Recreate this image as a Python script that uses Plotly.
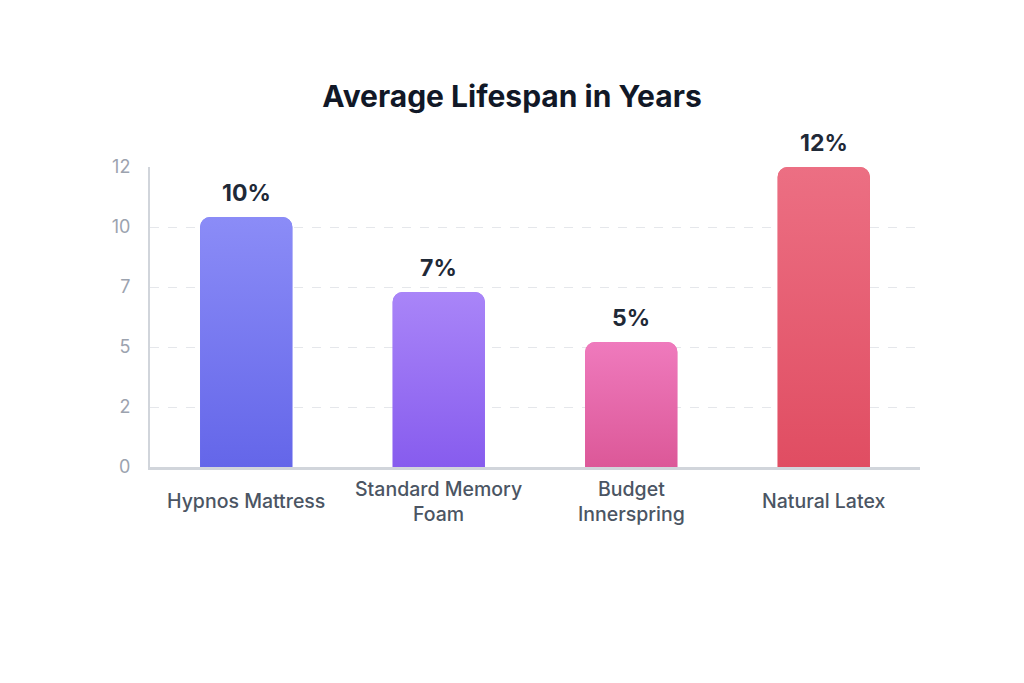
import base64
import plotly.graph_objects as go

categories = ["Hypnos Mattress", "Standard Memory<br>Foam", "Budget<br>Innerspring", "Natural Latex"]
values = [10, 7, 5, 12]
value_labels = ["10%", "7%", "5%", "12%"]
bar_colors = ["#7779f1", "#9a72f4", "#e567ad", "#e55d71"]
grad_top = ["#8b8cf7", "#a985f8", "#ef7abd", "#ec6f83"]
grad_bottom = ["#6466e9", "#875cee", "#dc5898", "#e04d62"]
tick_vals = [0, 2.4, 4.8, 7.2, 9.6, 12]
tick_text = ["0", "2", "5", "7", "10", "12"]

BAR_W = 0.48
PX_PER_UNIT = 25.0   # plot height 300px / 12 units
PX_PER_CAT = 192.5   # plot width 770px / 4 categories

fig = go.Figure()
fig.add_trace(go.Bar(
    x=categories,
    y=values,
    marker=dict(color=bar_colors, cornerradius=10, line=dict(width=0)),
    width=BAR_W,
    hoverinfo="skip",
))


def grad_svg(top, bottom, v):
    w = BAR_W * PX_PER_CAT
    h = v * PX_PER_UNIT
    r = 10
    svg = (
        f'<svg xmlns="http://www.w3.org/2000/svg" width="{w:.1f}" height="{h:.1f}" '
        f'viewBox="0 0 {w:.1f} {h:.1f}" preserveAspectRatio="none">'
        f'<defs><linearGradient id="g" x1="0" y1="0" x2="0" y2="1">'
        f'<stop offset="0" stop-color="{top}"/><stop offset="1" stop-color="{bottom}"/>'
        f'</linearGradient></defs>'
        f'<path d="M0,{h:.1f} V{r} A{r},{r} 0 0 1 {r},0 H{w - r:.1f} A{r},{r} 0 0 1 {w:.1f},{r} V{h:.1f} Z" fill="url(#g)"/>'
        f'</svg>'
    )
    return "data:image/svg+xml;base64," + base64.b64encode(svg.encode()).decode()


images = []
for i, (v, t, b) in enumerate(zip(values, grad_top, grad_bottom)):
    images.append(dict(
        source=grad_svg(t, b, v),
        xref="x", yref="y",
        x=i - BAR_W / 2, y=v,
        sizex=BAR_W, sizey=v,
        xanchor="left", yanchor="top",
        sizing="stretch", layer="above",
    ))

for c, v, t in zip(categories, values, value_labels):
    fig.add_annotation(
        x=c, y=v, text=t, showarrow=False,
        yanchor="bottom", yshift=8,
        font=dict(family="Inter", size=23, color="#1f2937", weight="bold"),
    )

for c in categories:
    fig.add_annotation(
        x=c, y=0, text=c, showarrow=False,
        yanchor="middle", yshift=-34,
        font=dict(family="Inter", size=19.5, color="#4b5563", weight=500),
    )

fig.update_layout(
    width=1008, height=667,
    margin=dict(l=142, r=96, t=159, b=208),
    paper_bgcolor="white",
    plot_bgcolor="white",
    showlegend=False,
    images=images,
    title=dict(
        text="Average Lifespan in Years",
        x=0.5, xanchor="center", y=0.8666, yanchor="middle",
        font=dict(family="Inter", size=30, color="#111827", weight="bold"),
    ),
    font=dict(family="Inter"),
)

fig.update_xaxes(
    showgrid=False,
    showline=True, linecolor="#d1d5db", linewidth=3,
    showticklabels=False,
    ticks="",
    fixedrange=True,
)
fig.update_yaxes(
    range=[0, 12],
    tickvals=tick_vals, ticktext=tick_text,
    showgrid=True, gridcolor="#e5e7eb", griddash="dash", gridwidth=1,
    showline=True, linecolor="#d1d5db", linewidth=2,
    zeroline=False,
    tickfont=dict(family="Inter", size=18, color="#9ca3af"),
    ticks="", ticklabelstandoff=14,
    fixedrange=True,
)

fig.write_html("out.html", config={"displayModeBar": False})
